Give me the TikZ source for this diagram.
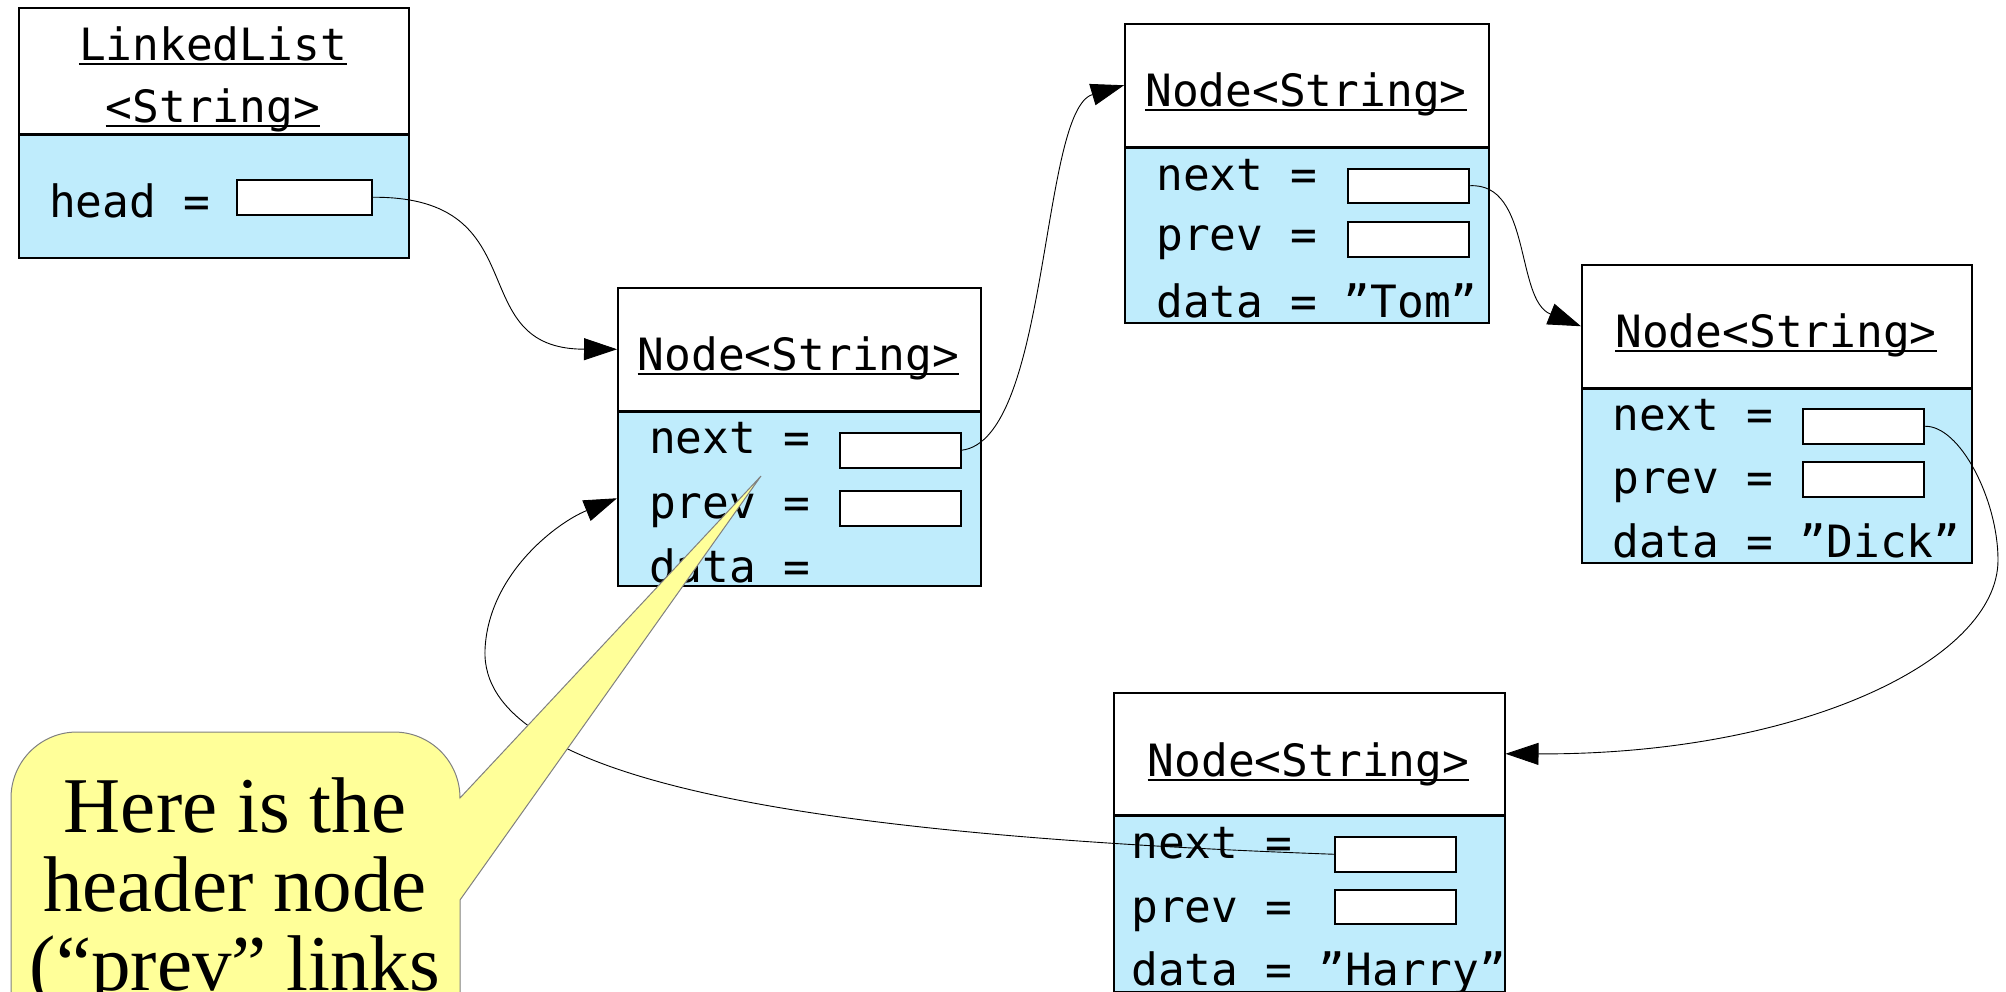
\documentclass[tikz,border=0pt]{standalone}
\usepackage{fontspec}
\setmonofont{DejaVu Sans Mono}
\newfontfamily\notefont{Liberation Serif}
\usetikzlibrary{arrows.meta}

\definecolor{fieldblue}{RGB}{191,236,252}
\definecolor{noteyellow}{RGB}{255,255,153}
\definecolor{notegray}{RGB}{128,128,128}

\tikzset{
  codefont/.style={font=\ttfamily\fontsize{44.5}{50}\selectfont},
  code/.style={codefont, inner sep=0pt, anchor=base west},
  classname/.style={codefont, inner sep=0pt, anchor=base},
  headbox/.style={draw, line width=1.5pt, fill=white, inner sep=0pt, anchor=north west},
  fieldbox/.style={draw, line width=1.5pt, fill=fieldblue, inner sep=0pt, anchor=north west},
  refbox/.style={draw, line width=1.5pt, fill=white, inner sep=0pt, anchor=north west,
                 minimum width=121pt, minimum height=35pt},
  link/.style={line width=0.9pt, -{Triangle[length=33pt,width=22pt]}},
  notetext/.style={font=\notefont\fontsize{79}{79}\selectfont, inner sep=0pt, anchor=base},
}

% underline drawn across a class-name node
\newcommand{\ulname}[1]{\draw[line width=1.8pt] ([yshift=-4pt]#1.base west) -- ([yshift=-4pt]#1.base east);}
% thick separator between the header and the field part of a box
\newcommand{\splitline}[2]{\draw[line width=2.6pt] (#1.south west) -- (#1.south east);}

\begin{document}
\begin{tikzpicture}[x=1pt, y=-1pt]
\useasboundingbox (0,0) rectangle (2006,991);
\clip (0,0) rectangle (2006,991);

% ---------------- LinkedList<String> ----------------
\node[headbox, minimum width=390pt, minimum height=126pt] (llh) at (18,7) {};
\node[fieldbox, minimum width=390pt, minimum height=124pt] (llb) at (18,133) {};
\splitline{llh}{}
\node[classname] (llt1) at (213,60) {LinkedList};
\node[classname] (llt2) at (213,122) {<String>};
\ulname{llt1}
\ulname{llt2}
\node[code] (llhead) at (49,217) {head =};
\node[refbox, minimum width=135pt] (llref) at (236,179) {};

% ---------------- header node ----------------
\node[headbox, minimum width=363pt, minimum height=123pt] (n1h) at (617,287) {};
\node[fieldbox, minimum width=363pt, minimum height=175pt] (n1b) at (617,410) {};
\splitline{n1h}{}
\node[classname] (n1t) at (798.5,370) {Node<String>};
\ulname{n1t}
\node[code] (n1nx) at (649,453) {next =};
\node[code] (n1pv) at (649,518) {prev =};
\node[code] (n1dt) at (649,582) {data =};
\node[refbox] (n1next) at (839,432) {};
\node[refbox] (n1prev) at (839,490) {};

% ---------------- "Tom" ----------------
\node[headbox, minimum width=364pt, minimum height=123pt] (tomh) at (1124,23) {};
\node[fieldbox, minimum width=364pt, minimum height=176pt] (tomb) at (1124,146) {};
\splitline{tomh}{}
\node[classname] (tomt) at (1306,106) {Node<String>};
\ulname{tomt}
\node[code] (tomnx) at (1156,190) {next =};
\node[code] (tompv) at (1156,250) {prev =};
\node[code] (tomdt) at (1156,317) {data = ”Tom”};
\node[refbox, minimum height=34pt] (tomnext) at (1347,168) {};
\node[refbox] (tomprev) at (1347,221) {};

% ---------------- "Dick" ----------------
\node[headbox, minimum width=390pt, minimum height=123pt] (dickh) at (1581,264) {};
\node[fieldbox, minimum width=390pt, minimum height=175pt] (dickb) at (1581,387) {};
\splitline{dickh}{}
\node[classname] (dickt) at (1776,347) {Node<String>};
\ulname{dickt}
\node[code] (dicknx) at (1612,430) {next =};
\node[code] (dickpv) at (1612,493) {prev =};
\node[code] (dickdt) at (1612,557) {data = ”Dick”};
\node[refbox] (dicknext) at (1802,408) {};
\node[refbox] (dickprev) at (1802,461) {};

% ---------------- "Harry" ----------------
\node[headbox, minimum width=391pt, minimum height=122pt] (harryh) at (1113,692) {};
\node[fieldbox, minimum width=391pt, minimum height=177pt] (harryb) at (1113,814) {};
\splitline{harryh}{}
\node[classname] (harryt) at (1308.5,776) {Node<String>};
\ulname{harryt}
\node[code] (harrynx) at (1131,858) {next =};
\node[code] (harrypv) at (1131,922) {prev =};
\node[code] (harrydt) at (1131,985) {data = ”Harry”};
\node[refbox] (harrynext) at (1334,836) {};
\node[refbox, minimum height=34pt] (harryprev) at (1334,889) {};

% ---------------- links ----------------
\coordinate (bendA) at (1998,560);
\coordinate (bendB) at (485,650);

\draw[link] (llref.east) .. controls (540,196) and (460,349) .. (n1h.west);
\draw[link] (n1next.east) .. controls (1050,440) and (1040,110) .. (tomh.west);
\draw[link] (tomnext.east) .. controls (1532,182) and (1515,300) .. (dickh.west);
\draw[link] (dicknext.east) .. controls (1960,425) and (1998,500) .. (bendA)
            .. controls (1998,660) and (1800,755) .. (harryh.east);
\draw[link] (harrynext.west) .. controls (800,835) and (480,780) .. (bendB)
            .. controls (488,575) and (556,523) .. (n1b.west);

% ---------------- speech bubble ----------------
\coordinate (bubbletip) at (761,476);
\draw[notegray, fill=noteyellow, line width=1pt]
  (11,1060) -- (11,798)
  .. controls (11,761.5) and (40.5,732) .. (77,732)
  -- (394,732)
  .. controls (430.5,732) and (460,761.5) .. (460,798)
  -- (bubbletip) -- (460,900) -- (460,1060) -- cycle;
\node[notetext] (note1) at (235,832) {Here is the};
\node[notetext] (note2) at (235,911) {header node};
\node[notetext] (note3) at (235,990) {(“prev” links};

\end{tikzpicture}
\end{document}
